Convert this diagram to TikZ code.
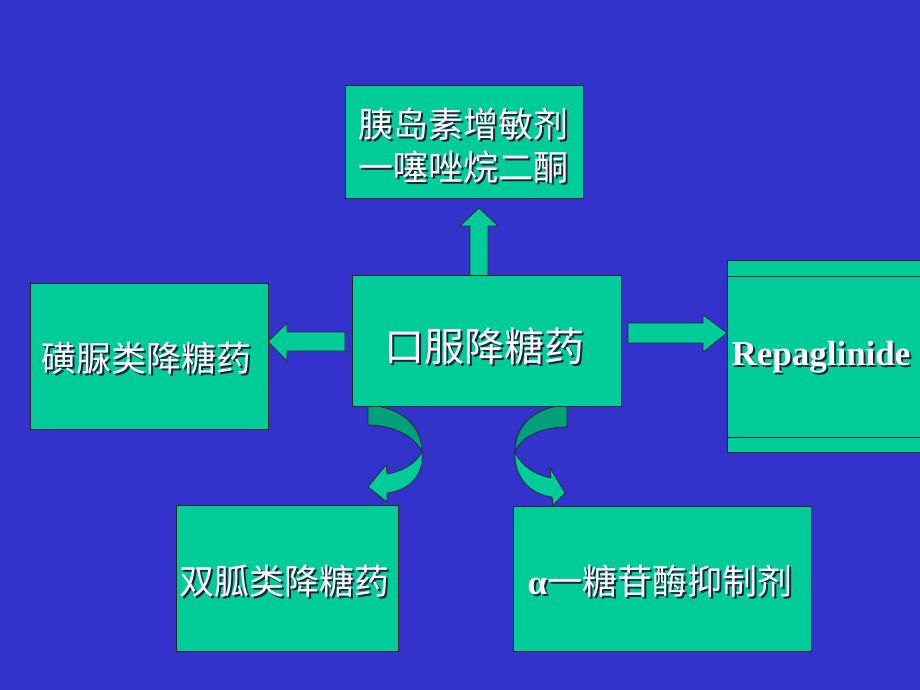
\documentclass[tikz,border=0pt]{standalone}
\usepackage{fontspec}
\setmainfont{Liberation Serif}
\newfontfamily\cjk{Noto Sans CJK SC}
\definecolor{bg}{RGB}{51,51,204}
\definecolor{tealA}{RGB}{0,204,153}
\definecolor{tealB}{RGB}{0,160,122}
\definecolor{shd}{RGB}{35,35,60}
\newcommand\shtext[1]{\makebox[0pt][l]{\hspace{2pt}\raisebox{-2pt}{\color{shd}#1}}{\color{white}#1}}
\begin{document}
\begin{tikzpicture}[x=1pt,y=-1pt,
  box/.style={draw=black!85, line width=0.8pt, fill=tealA, inner sep=0pt},
  lbl/.style={font=\cjk\fontsize{35}{43}\selectfont, align=center, inner sep=0pt},
  blk/.style={draw=black!85, line width=0.7pt, fill=tealA, line join=miter},
  blkd/.style={draw=black!85, line width=0.7pt, fill=tealB}]
\fill[bg] (0,0) rectangle (920,690);
\clip (0,0) rectangle (920,690);
% straight block arrows
\draw[blk] (470,277) -- (470,226) -- (460,226) -- (479,208) -- (498,226) -- (488,226) -- (488,277);
\draw[blk] (345,332) -- (287,332) -- (287,323) -- (268,341.5) -- (287,361) -- (287,351) -- (345,351) -- cycle;
\draw[blk] (628,323) -- (703,323) -- (703,315) -- (727,333) -- (703,352) -- (703,343) -- (628,343) -- cycle;
% curved arrows
\draw[blkd] (368,405) .. controls (400,407) and (422,425) .. (422,452) .. controls (416,438) and (395,425) .. (368,425) -- cycle;
\draw[blk] (422,452) .. controls (424,475) and (410,490) .. (387,493) -- (387,502) -- (368,487) -- (386,465) -- (387,474) .. controls (400,472) and (415,465) .. (422,452) -- cycle;
\draw[blkd] (567,405) .. controls (535,407) and (515,425) .. (515,452) .. controls (520,438) and (540,427) .. (567,427) -- cycle;
\draw[blk] (515,452) .. controls (514,478) and (530,494) .. (552,497) -- (553,505) -- (565,493) -- (550,468) -- (551,478) .. controls (535,475) and (520,465) .. (515,452) -- cycle;
% boxes
\node[box, minimum width=238pt, minimum height=113pt] (top) at (464,141.5) {};
\node[lbl] (toptext) at (463,147) {\shtext{胰岛素增敏剂}\\\shtext{一噻唑烷二酮}};
\node[box, minimum width=269pt, minimum height=131pt] (center) at (487,340.5) {};
\node[lbl, font=\cjk\fontsize{40}{48}\selectfont] (centertext) at (484,347) {\shtext{口服降糖药}};
\node[box, minimum width=238pt, minimum height=146pt] (left) at (149.5,356) {};
\node[lbl] (lefttext) at (146,359) {\shtext{磺脲类降糖药}};
\node[box, minimum width=203pt, minimum height=192pt] (right) at (828.5,356) {};
\draw[black!85, line width=0.8pt] (right.north west |- 0,276) -- (930,276);
\draw[black!85, line width=0.8pt] (right.north west |- 0,437) -- (930,437);
\node[inner sep=0pt, font=\fontsize{35}{40}\selectfont\bfseries] (righttext) at (821,358) {\shtext{Repaglinide}};
\node[box, minimum width=222pt, minimum height=146pt] (bl) at (287,578) {};
\node[lbl] (bltext) at (284,582) {\shtext{双胍类降糖药}};
\node[box, minimum width=298pt, minimum height=145pt] (br) at (662,578.5) {};
\node[lbl] (brtext) at (660,582) {\shtext{{\rmfamily\bfseries α}一糖苷酶抑制剂}};
\end{tikzpicture}
\end{document}
